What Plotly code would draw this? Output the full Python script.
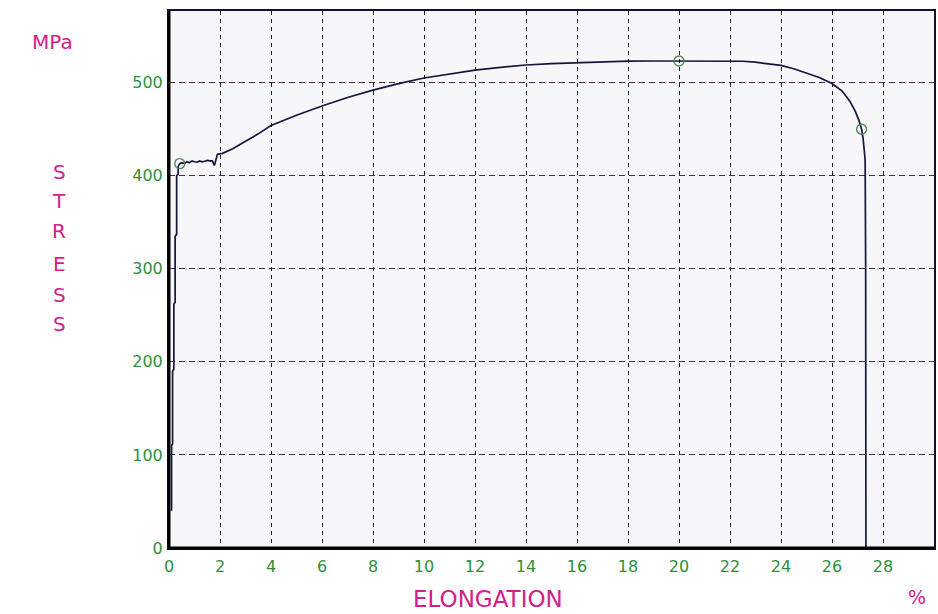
import plotly.graph_objects as go

# ---- data ----
elongation = [0.10, 0.10, 0.14, 0.14, 0.19, 0.19, 0.24, 0.24, 0.30, 0.30, 0.36, 0.36, 0.42,
              0.50, 0.60, 0.70, 0.80, 0.90, 1.00, 1.10, 1.20, 1.30, 1.40, 1.50, 1.60, 1.70,
              1.78, 1.85, 1.90, 2.10, 2.50, 3.00, 3.50, 4.00, 5.00, 6.00, 7.00, 8.00, 9.00,
              10.0, 11.0, 12.0, 13.0, 14.0, 15.0, 16.0, 17.0, 18.0, 19.0, 20.0, 21.0, 22.0,
              22.5, 23.0, 23.5, 24.0, 24.5, 25.0, 25.5, 26.0, 26.4, 26.7, 26.9, 27.05, 27.16,
              27.22, 27.27, 27.30, 27.32, 27.33]
stress = [40, 110, 112, 190, 192, 262, 264, 335, 337, 400, 402, 410, 413,
          414, 413, 415, 414, 416, 415, 414.5, 416, 415, 415.5, 416.5, 416, 416,
          411, 418, 423, 424, 429, 437, 445, 454, 465, 475, 484, 492, 499,
          505, 509.5, 513.5, 516.5, 519, 520.5, 521.5, 522.5, 523.2, 523.3, 523.3, 523.3, 523.2,
          523, 522, 520.5, 518.5, 515, 510.5, 505.5, 499, 491, 480, 470, 460, 450,
          440, 428, 417, 300, 0]

marker_x = [0.42, 20.0, 27.16]
marker_y = [413, 523.3, 450]

x_ticks = list(range(0, 29, 2))
y_ticks = [0, 100, 200, 300, 400, 500]

GREEN = "#2f8f3a"
MAGENTA = "#d4208c"
FONT = "DejaVu Sans"

# plot area spans page x 169..936, y 11..548
PW, PH = 767, 537

fig = go.Figure()
fig.add_trace(go.Scatter(x=elongation, y=stress, mode="lines",
                         line=dict(color="#16163c", width=1.7), hoverinfo="skip"))
fig.add_trace(go.Scatter(x=marker_x, y=marker_y, mode="markers",
                         marker=dict(symbol="circle-open", size=10, color="#4b8a50",
                                     line=dict(width=1.4)), hoverinfo="skip"))

fig.update_layout(
    width=938, height=614,
    margin=dict(l=169, r=2, t=11, b=66),
    paper_bgcolor="white", plot_bgcolor="#f7f7fa",
    showlegend=False,
    font=dict(family=FONT),
    xaxis=dict(range=[0, 30], tickvals=x_ticks, ticktext=[str(v) for v in x_ticks],
               showgrid=True, gridcolor="#1e1e1e", gridwidth=1.2, griddash="4px,4px",
               zeroline=False, showline=True, linecolor="#101030", linewidth=2, mirror=True,
               ticks="", ticklabelstandoff=3,
               tickfont=dict(color=GREEN, size=16, family=FONT), fixedrange=True),
    yaxis=dict(range=[0, 577], tickvals=y_ticks, ticktext=[str(v) for v in y_ticks],
               showgrid=True, gridcolor="#4a2a4a", gridwidth=1.2, griddash="6px,4px",
               zeroline=False, showline=True, linecolor="#101030", linewidth=2, mirror=True,
               ticks="", ticklabelstandoff=1,
               tickfont=dict(color=GREEN, size=16, family=FONT), fixedrange=True),
)

# thicker left and bottom axis lines
fig.add_shape(type="line", xref="paper", yref="paper", x0=0, x1=0, y0=0, y1=1,
              line=dict(color="black", width=3))
fig.add_shape(type="line", xref="paper", yref="paper", x0=0, x1=1, y0=0, y1=0,
              line=dict(color="black", width=3))

def px(x):
    return (x - 169) / PW

def py(y):
    return (548 - y) / PH

# axis titles
fig.add_annotation(text="MPa", xref="paper", yref="paper", x=px(52), y=py(42),
                   showarrow=False, font=dict(color=MAGENTA, size=20, family=FONT),
                   xanchor="center", yanchor="middle")
stress_letters = ["S", "T", "R", "E", "S", "S"]
letter_y = [172, 201, 231, 264, 295, 324]
for ch, ly in zip(stress_letters, letter_y):
    fig.add_annotation(text=ch, xref="paper", yref="paper", x=px(59), y=py(ly),
                       showarrow=False, font=dict(color=MAGENTA, size=20, family=FONT),
                       xanchor="center", yanchor="middle")
fig.add_annotation(text="ELONGATION", xref="paper", yref="paper", x=px(489), y=py(599),
                   showarrow=False, font=dict(color=MAGENTA, size=23, family=FONT),
                   xanchor="center", yanchor="middle")
fig.add_annotation(text="%", xref="paper", yref="paper", x=px(919), y=py(597),
                   showarrow=False, font=dict(color=MAGENTA, size=19, family=FONT),
                   xanchor="center", yanchor="middle")

fig.write_html("out.html", config={"displayModeBar": False},
               post_script="document.body.style.margin='0px';document.body.style.overflow='hidden';")
